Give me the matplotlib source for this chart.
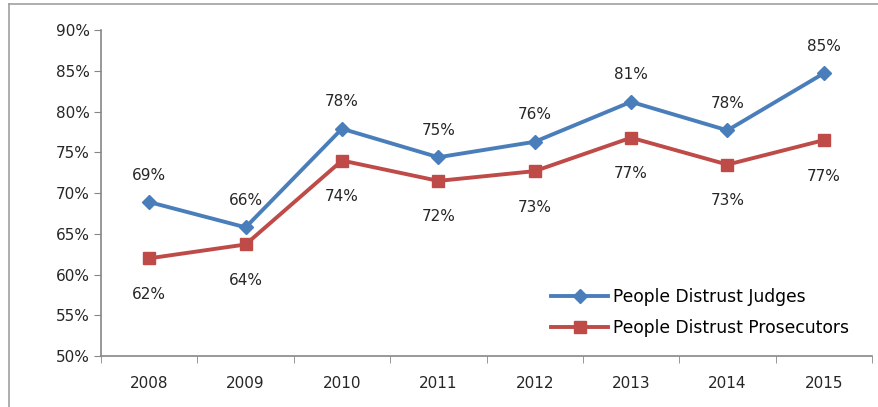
import matplotlib.pyplot as plt
from matplotlib.lines import Line2D

anos = ['2008', '2009', '2010', '2011', '2012', '2013', '2014', '2015']
juizes = [68.9, 65.8, 77.9, 74.4, 76.3, 81.2, 77.7, 84.7]
promotores = [62.0, 63.7, 74.0, 71.5, 72.7, 76.8, 73.5, 76.5]
rotulos_juizes = ['69%', '66%', '78%', '75%', '76%', '81%', '78%', '85%']
rotulos_promotores = ['62%', '64%', '74%', '72%', '73%', '77%', '73%', '77%']
y_ticks = [50, 55, 60, 65, 70, 75, 80, 85, 90]

azul = '#4A7EBB'
vermelho = '#BE4B48'
cinza = '#868686'

fig = plt.figure(figsize=(8.79, 4.07), dpi=100)
ax = fig.add_axes([0.115, 0.125, 0.877, 0.801])

x = list(range(len(anos)))
ax.plot(x, juizes, color=azul, lw=2.8, marker='D', markersize=7,
        label='People Distrust Judges')
ax.plot(x, promotores, color=vermelho, lw=2.8, marker='s', markersize=9,
        label='People Distrust Prosecutors')

for i in x:
    ax.annotate(rotulos_juizes[i], (i, juizes[i]), xytext=(0, 27),
                textcoords='offset pixels', ha='center', va='center',
                fontsize=11, color='#262626')
    ax.annotate(rotulos_promotores[i], (i, promotores[i]), xytext=(0, -36),
                textcoords='offset pixels', ha='center', va='center',
                fontsize=11, color='#262626')

ax.set_xlim(-0.5, len(anos) - 0.5)
ax.set_ylim(50, 90)
ax.set_yticks(y_ticks)
ax.set_yticklabels([f'{v}%' for v in y_ticks])
ax.set_xticks(x)
ax.set_xticklabels(anos)
ax.set_xticks([i + 0.5 for i in range(-1, len(anos))], minor=True)
ax.tick_params(axis='x', which='major', length=0, pad=14, labelsize=11, colors='#262626')
ax.tick_params(axis='x', which='minor', length=5, color=cinza, direction='out')
ax.tick_params(axis='y', length=5, color=cinza, labelsize=11, labelcolor='#262626', pad=3)

for lado in ['top', 'right']:
    ax.spines[lado].set_visible(False)
for lado in ['left', 'bottom']:
    ax.spines[lado].set_color(cinza)
    ax.spines[lado].set_linewidth(1.2)

ax.legend(loc='lower right', bbox_to_anchor=(0.99, 0.012), frameon=False,
          fontsize=12.3, handlelength=3.3, labelspacing=0.75, handletextpad=0.3)

# moldura
fig.add_artist(Line2D([9 / 879, 9 / 879], [0, 1 - 4 / 407], color='#a0a0a0', lw=1.2))
fig.add_artist(Line2D([9 / 879, 1], [1 - 4 / 407, 1 - 4 / 407], color='#a0a0a0', lw=1.2))

fig.savefig('out.png', dpi=100)
